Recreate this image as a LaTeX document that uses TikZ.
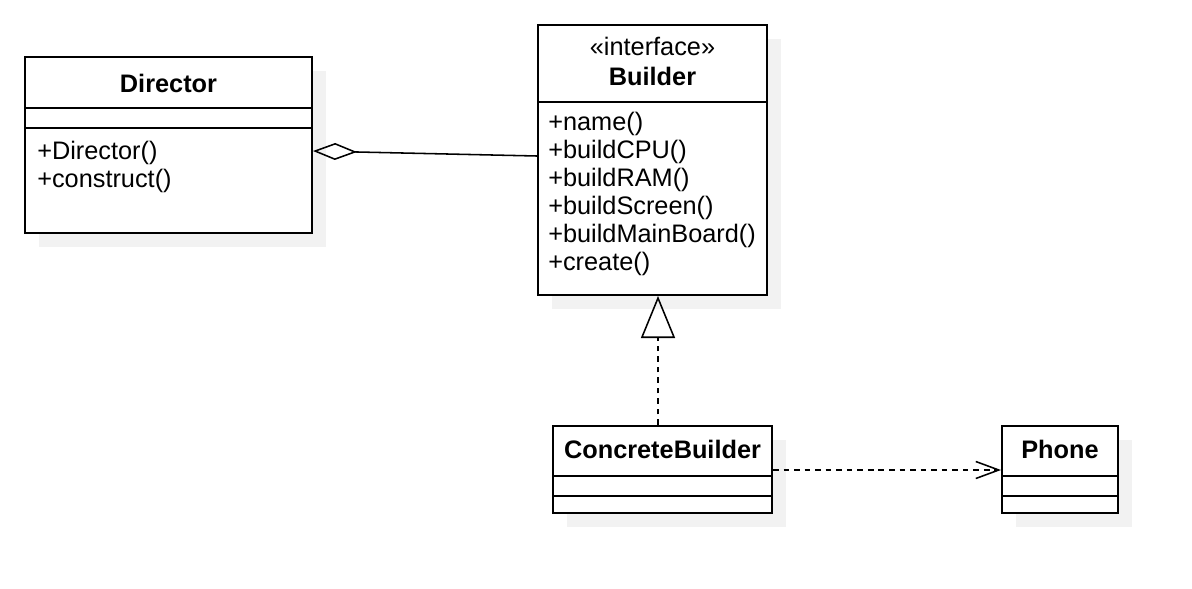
\documentclass[tikz,border=0pt]{standalone}
\usepackage{fontspec}
\setmainfont{Liberation Sans}
\usepackage{tikz}
\definecolor{shadowgray}{RGB}{242, 242, 242}
\usetikzlibrary{arrows.meta, positioning, fit, shadows}

\begin{document}
\begin{tikzpicture}[
    x=0.025cm, y=-0.025cm,
    classbox/.style={draw, line width=1.4pt, fill=white, inner sep=0pt,
        general shadow={fill=shadowgray, shadow xshift=0.35cm, shadow yshift=-0.35cm}},
    classname/.style={font=\fontsize{18}{20}\selectfont\bfseries, anchor=base, inner sep=0pt},
    stereo/.style={font=\fontsize{18}{20}\selectfont, anchor=base, inner sep=0pt},
    member/.style={font=\fontsize{18}{20}\selectfont, anchor=base west, inner sep=0pt},
    sep/.style={line width=1.4pt},
    aggr/.style={{Diamond[open, length=1.1cm, width=0.425cm]}-, line width=1.1pt},
    realize/.style={-{Triangle[open, length=1.05cm, width=0.85cm]}, line width=1.1pt, dash pattern=on 4pt off 3.5pt},
    depend/.style={-{Straight Barb[length=0.575cm, width=0.425cm]}, line width=1.1pt, dash pattern=on 4pt off 3.5pt}
]
    \useasboundingbox (0,0) rectangle (1192,588);

    % Class boxes
    \node[classbox, fit={(25,57) (312,233)}] (director) {};
    \node[classbox, fit={(538,25) (767,295)}] (builder) {};
    \node[classbox, fit={(553,426) (772,513)}] (concrete) {};
    \node[classbox, fit={(1002,426) (1118,513)}] (phone) {};

    % Compartments
    \draw[sep] (director.west |- 0,108) -- (director.east |- 0,108);
    \draw[sep] (director.west |- 0,128) -- (director.east |- 0,128);
    \draw[sep] (builder.west |- 0,102) -- (builder.east |- 0,102);
    \draw[sep] (concrete.west |- 0,476) -- (concrete.east |- 0,476);
    \draw[sep] (concrete.west |- 0,496) -- (concrete.east |- 0,496);
    \draw[sep] (phone.west |- 0,476) -- (phone.east |- 0,476);
    \draw[sep] (phone.west |- 0,496) -- (phone.east |- 0,496);

    % Director
    \node[classname] (directorname) at (168.5,92) {Director};
    \node[member] (directorctor) at (37,159) {+Director()};
    \node[member] (directorconstruct) at (37,187) {+construct()};

    % Builder
    \node[stereo] (builderstereo) at (652.5,55) {«interface»};
    \node[classname] (buildername) at (652.5,85) {Builder};
    \node[member] (buildername1) at (548,130) {+name()};
    \node[member] (buildercpu) at (548,158) {+buildCPU()};
    \node[member] (builderram) at (548,186) {+buildRAM()};
    \node[member] (builderscreen) at (548,214) {+buildScreen()};
    \node[member] (builderboard) at (548,242) {+buildMainBoard()};
    \node[member] (buildercreate) at (548,270) {+create()};

    % ConcreteBuilder and Phone
    \node[classname] (concretename) at (662.5,458) {ConcreteBuilder};
    \node[classname] (phonename) at (1060,458) {Phone};

    % Relations
    \draw[aggr] (director.east |- 0,151) -- (builder.west |- 0,156);
    \draw[realize] (concrete.north -| 658,0) -- (builder.south -| 658,0);
    \draw[depend] (concrete.east |- 0,470) -- (phone.west |- 0,470);
\end{tikzpicture}
\end{document}
